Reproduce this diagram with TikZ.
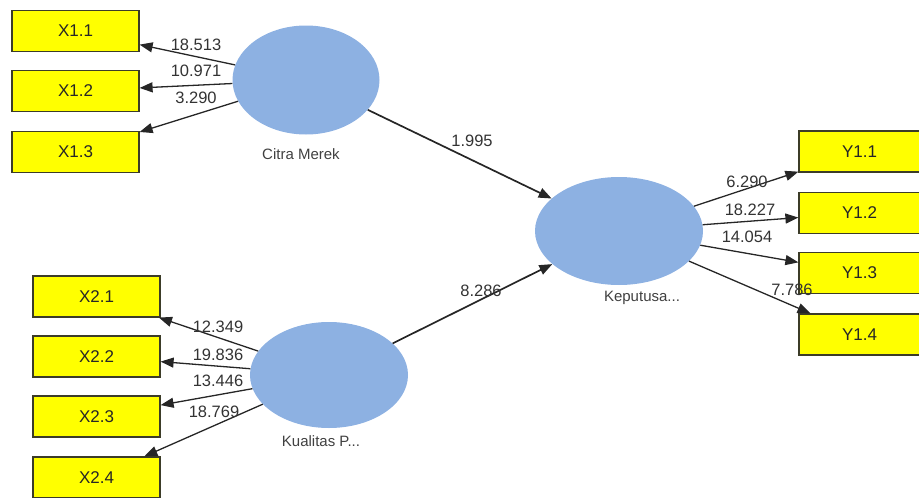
\documentclass[tikz,border=0pt]{standalone}
\usepackage{fontspec}
\setmainfont{Liberation Sans}
\usetikzlibrary{shapes.geometric,arrows.meta}
\definecolor{boxyellow}{RGB}{255,255,0}
\definecolor{latentblue}{RGB}{141,177,226}
\definecolor{boxline}{RGB}{60,60,40}

\begin{document}
\begin{tikzpicture}[x=1pt,y=-1pt,
	indicator/.style={draw=boxline,line width=1.2pt,fill=boxyellow,minimum width=127pt,minimum height=41pt,inner sep=0pt,font=\fontsize{17}{19}\selectfont,text=black!85},
	latent/.style={ellipse,fill=latentblue,inner sep=0pt},
	load/.style={draw=black!85,line width=1.3pt,-{Triangle[length=13pt,width=10pt]}},
	tval/.style={font=\fontsize{16.5}{18}\selectfont,text=black!80,inner sep=0pt},
	lname/.style={font=\fontsize{15}{17}\selectfont,text=black!75,inner sep=0pt}]
		\useasboundingbox (0,0) rectangle (919,498);
		% latent variables
		\node[latent,minimum width=147pt,minimum height=109pt] (citra) at (306,80) {};
		\node[latent,minimum width=158pt,minimum height=106pt] (kualitas) at (329,375) {};
		\node[latent,minimum width=168pt,minimum height=108pt] (keputusan) at (619,231) {};
		\node[lname] (citraname) at (301,154) {Citra Merek};
		\node[lname] (kualitasname) at (321,441) {Kualitas P...};
		\node[lname] (keputusanname) at (642,298) {Keputusa...};
		% indicators
		\node[indicator] (x11) at (75.5,31) {X1.1};
		\node[indicator] (x12) at (75.5,91) {X1.2};
		\node[indicator] (x13) at (75.5,152) {X1.3};
		\node[indicator] (x21) at (96.5,296.5) {X2.1};
		\node[indicator] (x22) at (96.5,356.5) {X2.2};
		\node[indicator] (x23) at (96.5,416.5) {X2.3};
		\node[indicator] (x24) at (96.5,477.5) {X2.4};
		\node[indicator,minimum width=121pt] (y11) at (859.5,151.5) {Y1.1};
		\node[indicator,minimum width=121pt] (y12) at (859.5,213) {Y1.2};
		\node[indicator,minimum width=121pt] (y13) at (859.5,273) {Y1.3};
		\node[indicator,minimum width=121pt] (y14) at (859.5,334.5) {Y1.4};
		% paths
		\draw[load] (citra) -- (x11);
		\draw[load] (citra) -- (x12);
		\draw[load] (citra) -- (x13);
		\draw[load] (kualitas) -- (x21);
		\draw[load] (kualitas) -- (x22);
		\draw[load] (kualitas) -- (x23);
		\draw[load] (kualitas) -- (x24);
		\draw[load] (keputusan) -- (y11);
		\draw[load] (keputusan) -- (y12);
		\draw[load] (keputusan) -- (y13);
		\draw[load] (keputusan) -- (y14);
		\draw[load,line width=1.7pt] (citra) -- (keputusan);
		\draw[load,line width=1.7pt] (kualitas) -- (keputusan);
		% t values
		\node[tval] (t11) at (196,45) {18.513};
		\node[tval] (t12) at (196,71) {10.971};
		\node[tval] (t13) at (196,98) {3.290};
		\node[tval] (t21) at (218,327) {12.349};
		\node[tval] (t22) at (218,355) {19.836};
		\node[tval] (t23) at (218,381) {13.446};
		\node[tval] (t24) at (214,412) {18.769};
		\node[tval] (ty11) at (747,182) {6.290};
		\node[tval] (ty12) at (750,210) {18.227};
		\node[tval] (ty13) at (747,237) {14.054};
		\node[tval] (ty14) at (792,290) {7.786};
		\node[tval] (tcitra) at (472,141) {1.995};
		\node[tval] (tkualitas) at (481,291) {8.286};
	\end{tikzpicture}
\end{document}
